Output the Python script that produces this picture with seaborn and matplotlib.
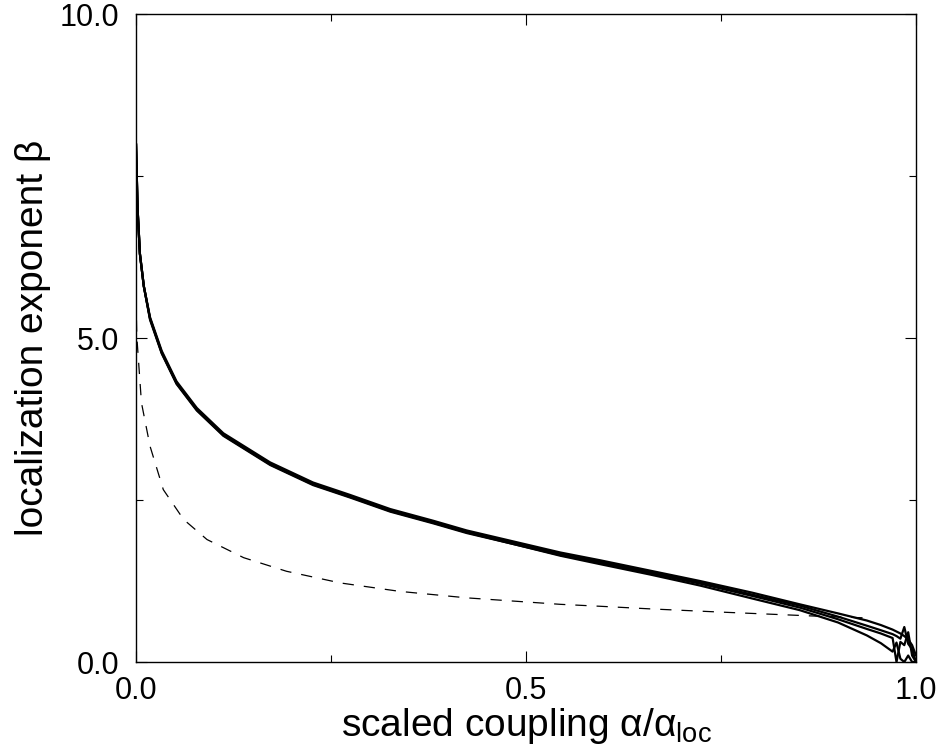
import numpy as np
import pandas as pd
import matplotlib
matplotlib.use("Agg")
import matplotlib.pyplot as plt
import seaborn as sns

# ---- data ----
x_solid = [0.0, 0.002, 0.005, 0.01, 0.018, 0.033, 0.052, 0.078, 0.112, 0.172,
           0.227, 0.274, 0.326, 0.381, 0.424, 0.544, 0.595, 0.659, 0.723, 0.79,
           0.851, 0.9, 0.937, 0.955, 0.97, 0.975, 0.98, 0.985, 0.99, 0.995, 1.0]
beta_1 = [8.0, 7.0, 6.3, 5.8, 5.32, 4.8, 4.33, 3.92, 3.53, 3.08,
          2.77, 2.58, 2.36, 2.18, 2.03, 1.69, 1.57, 1.41, 1.25, 1.07,
          0.89, 0.75, 0.64, 0.57, 0.50, 0.47, 0.44, 0.40, 0.35, 0.26, 0.10]
beta_2 = [8.0, 7.0, 6.3, 5.8, 5.3, 4.78, 4.31, 3.9, 3.51, 3.06,
          2.75, 2.56, 2.34, 2.16, 2.01, 1.67, 1.55, 1.39, 1.23, 1.04,
          0.87, 0.70, 0.56, 0.49, 0.43, 0.40, 0.36, 0.54, 0.28, 0.20, 0.0]
beta_3 = [8.0, 7.0, 6.3, 5.8, 5.28, 4.76, 4.29, 3.88, 3.49, 3.04,
          2.73, 2.54, 2.32, 2.14, 1.99, 1.65, 1.53, 1.37, 1.21, 1.02,
          0.84, 0.66, 0.51, 0.44, 0.37, 0.0, 0.31, 0.26, 0.46, 0.10, 0.0]
beta_4 = [8.0, 7.0, 6.3, 5.8, 5.3, 4.77, 4.3, 3.89, 3.5, 3.05,
          2.74, 2.55, 2.33, 2.15, 2.0, 1.64, 1.51, 1.35, 1.18, 0.98,
          0.80, 0.61, 0.41, 0.29, 0.16, 0.30, 0.05, 0.0, 0.10, 0.0, 0.0]

x_dash = [0.0, 0.001, 0.007, 0.018, 0.035, 0.061, 0.091, 0.138, 0.193, 0.262,
          0.338, 0.424, 0.544, 0.595, 0.659, 0.75, 0.868, 0.937]
beta_dash = [5.6, 5.03, 4.0, 3.33, 2.66, 2.2, 1.89, 1.61, 1.4, 1.22,
             1.09, 0.99, 0.89, 0.86, 0.82, 0.77, 0.71, 0.68]

x_ticks = [0.0, 0.5, 1.0]
x_ticklabels = ["0.0", "0.5", "1.0"]
y_ticks = [0.0, 5.0, 10.0]
y_ticklabels = ["0.0", "5.0", "10.0"]

# ---- styling ----
sns.set_theme(style="ticks")
plt.rcParams["font.family"] = ["Liberation Sans", "DejaVu Sans"]
plt.rcParams["mathtext.fontset"] = "custom"
plt.rcParams["mathtext.rm"] = "Liberation Sans"
plt.rcParams["mathtext.it"] = "Liberation Sans:italic"
for k in ["text.color", "axes.labelcolor", "xtick.color", "ytick.color",
          "axes.edgecolor"]:
    plt.rcParams[k] = "black"

fig = plt.figure(figsize=(9.4, 7.49), dpi=100)
ax = fig.add_axes([136 / 940, 1 - 662 / 749, 780 / 940, 648 / 749])

frames = []
for i, b in enumerate([beta_1, beta_2, beta_3, beta_4]):
    frames.append(pd.DataFrame({"x": x_solid, "beta": b, "run": f"r{i}"}))
df = pd.concat(frames, ignore_index=True)

sns.lineplot(data=df, x="x", y="beta", units="run", estimator=None,
             color="black", linewidth=1.6, ax=ax, sort=False)
sns.lineplot(x=x_dash, y=beta_dash, color="black", linewidth=0.9,
             linestyle=(0, (9, 8)), ax=ax, sort=False)

ax.set_xlim(0, 1)
ax.set_ylim(0, 10)
ax.set_xticks(x_ticks)
ax.set_xticklabels(x_ticklabels)
ax.set_yticks(y_ticks)
ax.set_yticklabels(y_ticklabels)
ax.set_xticks([0.25, 0.75], minor=True)
ax.set_yticks([2.5, 7.5], minor=True)
ax.tick_params(which="both", direction="in", top=True, right=True,
               labelsize=22, width=0.8, color="black", labelcolor="black")
ax.tick_params(axis="y", which="major", pad=12)
ax.tick_params(axis="x", which="major", pad=10)
ax.tick_params(which="major", length=8)
ax.tick_params(which="minor", length=5)
for s in ax.spines.values():
    s.set_linewidth(1.0)
    s.set_color("black")

ax.set_xlabel(r"scaled coupling $\mathrm{\alpha/\alpha_{loc}}$", fontsize=28,
              labelpad=0, color="black")
ax.set_ylabel("localization exponent β", fontsize=28, labelpad=6, color="black")

fig.savefig("out.png", dpi=100, facecolor="white")
